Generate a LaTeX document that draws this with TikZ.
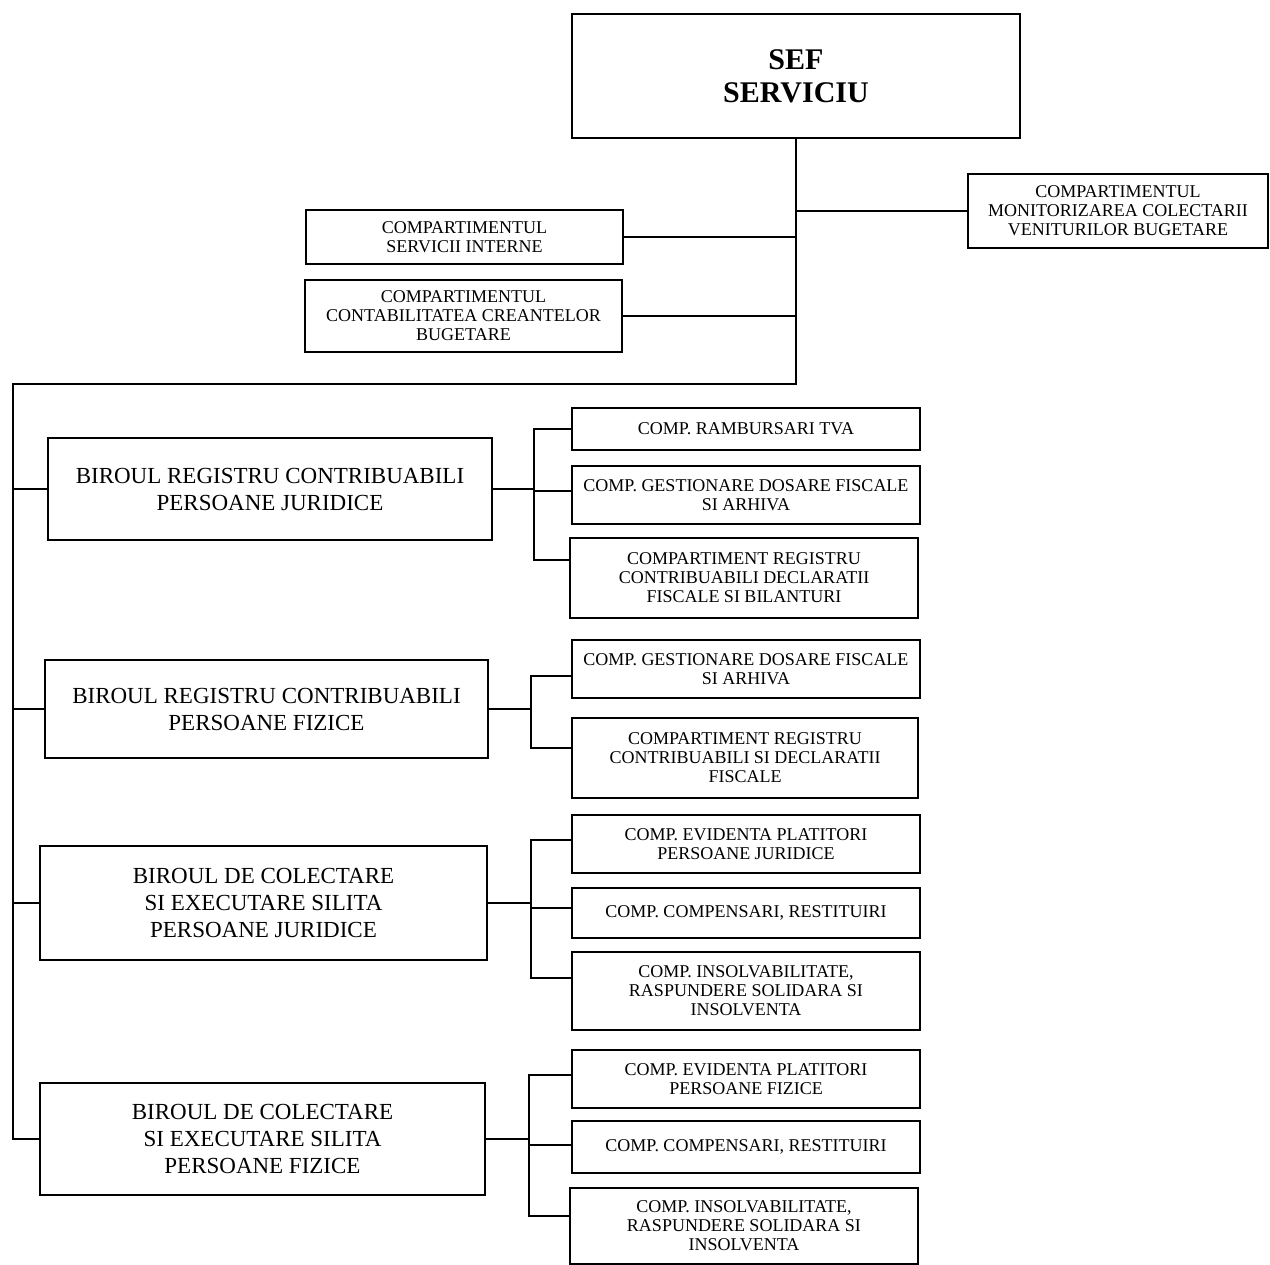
\documentclass[tikz,border=0pt]{standalone}
\usepackage{fontspec}
\setmainfont{Liberation Serif}
\begin{document}
\begin{tikzpicture}[x=1pt,y=-1pt,
  every path/.style={line width=1.5pt},
  box/.style={draw, line width=1.5pt, inner sep=0pt, align=center, anchor=center},
  small/.style={box, font=\fontsize{18}{19}\selectfont},
  mid/.style={box, font=\fontsize{23}{27}\selectfont},
  big/.style={box, font=\fontsize{30}{33}\selectfont\bfseries},
  conn/.style={line width=1.5pt}]
\useasboundingbox (0,0) rectangle (1270,1265);
% top
\node[big, minimum width=448pt, minimum height=124pt] (sef) at (796,76) {SEF\\SERVICIU};
\node[small, minimum width=300pt, minimum height=74pt] (mon) at (1118,211) {COMPARTIMENTUL\\MONITORIZAREA COLECTARII\\VENITURILOR BUGETARE};
\node[small, minimum width=317pt, minimum height=54pt] (si) at (464.5,237) {COMPARTIMENTUL\\SERVICII INTERNE};
\node[small, minimum width=317pt, minimum height=72pt] (cc) at (463.5,316) {COMPARTIMENTUL\\CONTABILITATEA CREANTELOR\\BUGETARE};
% birouri
\node[mid, minimum width=444pt, minimum height=102pt] (b1) at (270,489) {BIROUL REGISTRU CONTRIBUABILI\\PERSOANE JURIDICE};
\node[mid, minimum width=443pt, minimum height=98pt] (b2) at (266.5,709) {BIROUL REGISTRU CONTRIBUABILI\\PERSOANE FIZICE};
\node[mid, minimum width=447pt, minimum height=114pt] (b3) at (263.5,903) {BIROUL DE COLECTARE\\SI EXECUTARE SILITA\\PERSOANE JURIDICE};
\node[mid, minimum width=445pt, minimum height=112pt] (b4) at (262.5,1139) {BIROUL DE COLECTARE\\SI EXECUTARE SILITA\\PERSOANE FIZICE};
% compartimente
\node[small, minimum width=348pt, minimum height=42pt] (r11) at (746,429) {COMP. RAMBURSARI TVA};
\node[small, minimum width=348pt, minimum height=58pt] (r12) at (746,495) {COMP. GESTIONARE DOSARE FISCALE\\SI ARHIVA};
\node[small, minimum width=348pt, minimum height=80pt] (r13) at (744,578) {COMPARTIMENT REGISTRU\\CONTRIBUABILI DECLARATII\\FISCALE SI BILANTURI};
\node[small, minimum width=348pt, minimum height=58pt] (r21) at (746,669) {COMP. GESTIONARE DOSARE FISCALE\\SI ARHIVA};
\node[small, minimum width=346pt, minimum height=80pt] (r22) at (745,758) {COMPARTIMENT REGISTRU\\CONTRIBUABILI SI DECLARATII\\FISCALE};
\node[small, minimum width=348pt, minimum height=58pt] (r31) at (746,844) {COMP. EVIDENTA PLATITORI\\PERSOANE JURIDICE};
\node[small, minimum width=348pt, minimum height=50pt] (r32) at (746,913) {COMP. COMPENSARI, RESTITUIRI};
\node[small, minimum width=348pt, minimum height=78pt] (r33) at (746,991) {COMP. INSOLVABILITATE,\\RASPUNDERE SOLIDARA SI\\INSOLVENTA};
\node[small, minimum width=348pt, minimum height=58pt] (r41) at (746,1079) {COMP. EVIDENTA PLATITORI\\PERSOANE FIZICE};
\node[small, minimum width=348pt, minimum height=52pt] (r42) at (746,1147) {COMP. COMPENSARI, RESTITUIRI};
\node[small, minimum width=348pt, minimum height=76pt] (r43) at (744,1226) {COMP. INSOLVABILITATE,\\RASPUNDERE SOLIDARA SI\\INSOLVENTA};
% trunk
\coordinate (trunk) at (796,384);
\coordinate (lbus) at (13,384);
\draw[conn] (sef.south) -- (trunk) -- (lbus) -- (lbus |- b4.west) -- (b4.west);
\draw[conn] (sef.south |- mon.west) -- (mon.west);
\draw[conn] (si.east) -- (sef.south |- si.east);
\draw[conn] (cc.east) -- (sef.south |- cc.east);
\draw[conn] (lbus |- b1.west) -- (b1.west);
\draw[conn] (lbus |- b2.west) -- (b2.west);
\draw[conn] (lbus |- b3.west) -- (b3.west);
% right buses
\path (b1.east) ++(41,0) coordinate (bus1);
\path (b2.east) ++(42,0) coordinate (bus2);
\path (b3.east) ++(43,0) coordinate (bus3);
\path (b4.east) ++(43,0) coordinate (bus4);
\draw[conn] (b1.east) -- (bus1);
\draw[conn] (bus1) |- (r11.west);
\draw[conn] (bus1) |- ([yshift=4pt]r12.west);
\draw[conn] (bus1) |- ([yshift=18pt]r13.west);
\draw[conn] (b2.east) -- (bus2);
\draw[conn] (bus2) |- ([yshift=-7pt]r21.west);
\draw[conn] (bus2) |- ([yshift=10pt]r22.west);
\draw[conn] (b3.east) -- (bus3);
\draw[conn] (bus3) |- ([yshift=4pt]r31.west);
\draw[conn] (bus3) |- ([yshift=5pt]r32.west);
\draw[conn] (bus3) |- ([yshift=13pt]r33.west);
\draw[conn] (b4.east) -- (bus4);
\draw[conn] (bus4) |- ([yshift=4pt]r41.west);
\draw[conn] (bus4) |- ([yshift=2pt]r42.west);
\draw[conn] (bus4) |- ([yshift=10pt]r43.west);
\end{tikzpicture}
\end{document}
